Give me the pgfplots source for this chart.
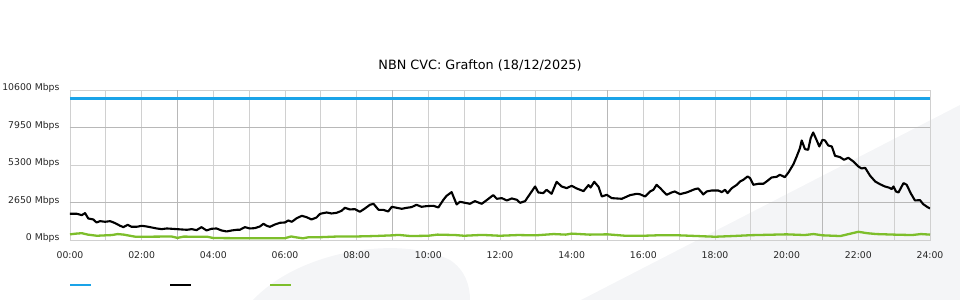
\documentclass[border=0pt]{standalone}
\usepackage{pgfplots}
\pgfplotsset{compat=1.18}
\usepackage{fontspec}
\setmainfont{DejaVu Sans}
\definecolor{cblue}{HTML}{1AA3E8}
\definecolor{cgreen}{HTML}{7DBE2B}
\definecolor{gridl}{HTML}{D0D0D0}
\definecolor{gridd}{HTML}{B8B8B8}
\definecolor{wm}{HTML}{F4F5F7}

\pgfplotstableread{
h v
0 1852
0.19 1852
0.33 1757
0.42 1899
0.51 1522
0.65 1451
0.74 1239
0.84 1333
0.98 1286
1.12 1333
1.26 1192
1.40 1003
1.49 909
1.61 1074
1.72 933
1.86 933
2.00 1003
2.14 956
2.28 886
2.42 815
2.56 768
2.70 815
2.84 792
2.98 768
3.12 744
3.26 721
3.40 768
3.53 697
3.67 909
3.81 674
3.95 792
4.09 815
4.23 674
4.37 603
4.51 674
4.65 721
4.74 721
4.88 909
5.02 815
5.16 839
5.30 956
5.40 1145
5.49 1003
5.58 933
5.72 1098
5.86 1216
6.00 1239
6.09 1380
6.19 1286
6.33 1545
6.47 1710
6.60 1616
6.74 1451
6.88 1592
6.98 1850
7.16 1946
7.30 1875
7.44 1922
7.58 2064
7.67 2276
7.81 2158
7.95 2181
8.09 1993
8.23 2228
8.37 2488
8.47 2558
8.61 2134
8.74 2134
8.88 2016
8.98 2346
9.12 2276
9.26 2205
9.40 2276
9.53 2323
9.67 2488
9.81 2346
9.95 2394
10.14 2417
10.28 2299
10.42 2841
10.51 3124
10.65 3383
10.79 2511
10.88 2700
11.02 2629
11.16 2558
11.30 2747
11.49 2558
11.63 2818
11.81 3171
11.91 2912
12.05 2959
12.19 2794
12.33 2935
12.47 2841
12.56 2629
12.70 2747
12.84 3265
12.98 3783
13.07 3359
13.21 3312
13.30 3548
13.44 3265
13.58 4113
13.72 3783
13.86 3666
14.00 3830
14.14 3642
14.33 3454
14.47 3878
14.53 3712
14.63 4113
14.75 3760
14.84 3076
14.98 3194
15.12 2959
15.40 2912
15.63 3171
15.82 3265
15.91 3230
16.05 3076
16.19 3430
16.28 3548
16.37 3901
16.47 3666
16.65 3194
16.79 3359
16.88 3430
17.02 3241
17.21 3359
17.44 3595
17.53 3642
17.63 3359
17.67 3218
17.77 3430
17.91 3500
18.09 3500
18.19 3383
18.28 3548
18.35 3312
18.47 3666
18.61 3901
18.70 4136
18.79 4254
18.91 4490
18.98 4372
19.07 3901
19.21 3972
19.35 3972
19.44 4136
19.58 4419
19.72 4466
19.81 4608
19.95 4443
20.05 4772
20.19 5362
20.28 5903
20.37 6492
20.42 7034
20.51 6422
20.60 6374
20.67 7199
20.74 7599
20.84 7034
20.91 6610
21.00 7081
21.07 7034
21.16 6680
21.26 6610
21.35 5950
21.49 5856
21.60 5668
21.72 5809
21.86 5550
22.00 5196
22.09 5055
22.19 5102
22.33 4537
22.47 4136
22.60 3948
22.74 3783
22.87 3689
22.93 3595
22.98 3783
23.05 3430
23.12 3359
23.26 4019
23.35 3901
23.46 3312
23.58 2794
23.72 2818
23.81 2535
23.93 2323
24.00 2228
}\blackdata

\pgfplotstableread{
h v
0 400
0.17 450
0.33 480
0.5 380
0.75 300
1.0 330
1.17 350
1.33 420
1.5 380
1.67 300
1.83 230
2.0 230
2.5 240
2.83 250
3.0 150
3.17 240
3.5 230
3.83 230
4.0 140
4.5 130
5.0 130
5.5 130
6.0 130
6.17 250
6.33 180
6.5 120
6.67 200
7.0 200
7.5 250
8.0 250
8.5 280
9.0 330
9.17 360
9.5 280
10.0 300
10.25 380
10.75 350
11.0 300
11.5 360
12.0 300
12.5 350
13.0 330
13.5 420
13.83 380
14.0 450
14.5 380
15.0 400
15.5 300
16.0 300
16.5 340
17.0 330
17.5 280
18.0 230
18.5 280
19.0 340
19.5 370
20.0 400
20.5 350
20.75 420
21.0 330
21.5 280
22.0 580
22.25 480
22.5 420
23.0 380
23.5 350
23.75 420
24.0 380
}\greendata

\begin{document}
\begin{tikzpicture}
\useasboundingbox (-70bp,-60bp) rectangle (890bp,240bp);
\fill[wm] (511bp,-60bp) -- (890bp,135bp) -- (890bp,-60bp) -- cycle;
\fill[wm] (183bp,-60bp) .. controls (230bp,-10bp) and (330bp,5bp) .. (380bp,-20bp) .. controls (395bp,-30bp) and (400bp,-45bp) .. (400bp,-60bp) -- cycle;
\begin{axis}[
  scale only axis, width=860bp, height=150bp,
  xmin=0, xmax=24, ymin=0, ymax=10600,
  scaled y ticks=false,
  axis line style={gridl, line width=0.8bp},
  xtick={0,2,...,24},
  xticklabels={00:00,02:00,04:00,06:00,08:00,10:00,12:00,14:00,16:00,18:00,20:00,22:00,24:00},
  minor x tick num=1,
  ytick={0,2650,5300,7950,10600},
  yticklabels={0 Mbps,2650 Mbps,5300 Mbps,7950 Mbps,10600 Mbps},
  grid=both,
  major grid style={gridl, line width=0.8bp},
  minor grid style={gridl, line width=0.8bp},
  extra x ticks={3,9,15,21}, extra x tick labels={},
  extra x tick style={grid=major, major grid style={gridd, line width=1.4bp}},
  extra y ticks={2650,7950}, extra y tick labels={},
  extra y tick style={grid=major, major grid style={gridd, line width=1.4bp}},
  major tick length=0pt, minor tick length=0pt,
  tick label style={font=\fontsize{9.3bp}{11bp}\selectfont, text=black!85},
  xticklabel style={anchor=base, yshift=-18.5bp},
  yticklabel style={anchor=east, xshift=-7bp, yshift=2bp},
  title={NBN CVC: Grafton (18/12/2025)},
  title style={at={(0.5,1)}, anchor=base, yshift=14.5bp, xshift=-20bp, font=\fontsize{12.8bp}{15bp}\selectfont},
]
\addplot[cblue, line width=2.2bp] coordinates {(0,10000) (24,10000)};
\addplot[cgreen, line width=2.3bp, line join=round] table[x=h,y=v] {\greendata};
\addplot[black, line width=2.1bp, line join=round] table[x=h,y=v] {\blackdata};
\end{axis}
\draw[cblue, line width=2.2bp] (0bp,-45bp) -- (21bp,-45bp);
\draw[black, line width=2.2bp] (100bp,-45bp) -- (121bp,-45bp);
\draw[cgreen, line width=2.2bp] (200bp,-45bp) -- (221bp,-45bp);
\end{tikzpicture}
\end{document}
